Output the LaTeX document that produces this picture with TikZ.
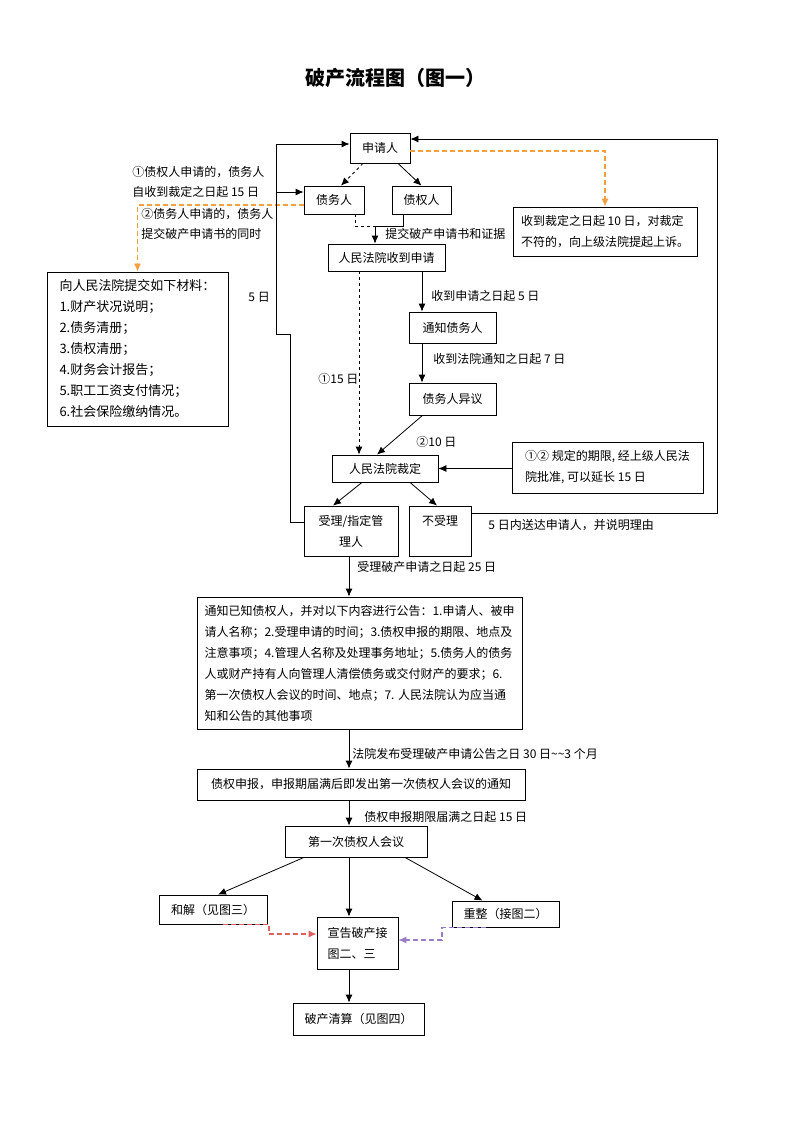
\documentclass[tikz,border=0pt]{standalone}
\usepackage{fontspec}
\setmainfont{Noto Sans CJK SC}
\usetikzlibrary{arrows.meta}

\definecolor{dashorange}{HTML}{F5A040}
\definecolor{dashred}{HTML}{E0605C}
\definecolor{dashpurple}{HTML}{9B7CC6}

\begin{document}
\begin{tikzpicture}[x=1pt, y=-1pt, line width=0.8pt, >={Latex[length=8pt,width=7pt]},
    box/.style={draw, inner sep=0pt, font=\fontsize{12}{21}\selectfont},
    lbl/.style={anchor=west, inner sep=0pt, align=left, font=\fontsize{12}{20}\selectfont},
    orangedash/.style={dashorange, line width=1.1pt, dash pattern=on 5pt off 3pt},
    reddash/.style={dashred, line width=1.1pt, dash pattern=on 5pt off 3pt},
    purpledash/.style={dashpurple, line width=1.1pt, dash pattern=on 5pt off 3pt}]
    \fill[white] (0,0) rectangle (793,1122);

    \node[font=\fontsize{20}{24}\selectfont\bfseries] (title) at (395,78) {破产流程图（图一）};

    % boxes
    \node[box, minimum width=60, minimum height=30] (shen) at (380,148) {申请人};
    \node[box, minimum width=60, minimum height=28] (zhaiwu) at (334,200) {债务人};
    \node[box, minimum width=59, minimum height=28] (zhaiquan) at (421.5,200) {债权人};
    \node[box, minimum width=117, minimum height=27] (shoudao) at (386.5,257.5) {人民法院收到申请};
    \node[box, minimum width=184, minimum height=49, align=left] (shangsu) at (605,231.5) {收到裁定之日起 10 日，对裁定\\不符的，向上级法院提起上诉。};
    \node[box, minimum width=181, minimum height=154, align=left, font=\fontsize{13}{21}\selectfont] (cailiao) at (137.5,349)
        {向人民法院提交如下材料：\\1.财产状况说明；\\2.债务清册；\\3.债权清册；\\4.财务会计报告；\\5.职工工资支付情况；\\6.社会保险缴纳情况。};
    \node[box, minimum width=87, minimum height=31] (tongzhi) at (452.5,327.5) {通知债务人};
    \node[box, minimum width=87, minimum height=32] (yiyi) at (452.5,399) {债务人异议};
    \node[box, minimum width=106, minimum height=27] (caiding) at (385,468.5) {人民法院裁定};
    \node[box, minimum width=191, minimum height=51, align=left] (yanchang) at (607.5,467.5) {①② 规定的期限, 经上级人民法\\院批准, 可以延长 15 日};
    \node[box, minimum width=94, minimum height=50, align=center] (shouli) at (351,531) {受理/指定管\\理人};
    \node[box, minimum width=62, minimum height=50, align=center] (bushouli) at (440,531) {不受理\\\mbox{}};
    \node[box, minimum width=325, minimum height=132, align=left] (gonggao) at (359.5,663)
        {通知已知债权人，并对以下内容进行公告：1.申请人、被申\\请人名称；2.受理申请的时间；3.债权申报的期限、地点及\\注意事项；4.管理人名称及处理事务地址；5.债务人的债务\\人或财产持有人向管理人清偿债务或交付财产的要求；6.\\第一次债权人会议的时间、地点；7. 人民法院认为应当通\\知和公告的其他事项};
    \node[box, minimum width=328, minimum height=31] (shenbao) at (361,784.5) {债权申报，申报期届满后即发出第一次债权人会议的通知};
    \node[box, minimum width=142, minimum height=31] (huiyi) at (356,841.5) {第一次债权人会议};
    \node[box, minimum width=108, minimum height=29] (hejie) at (213,909.5) {和解（见图三）};
    \node[box, minimum width=81, minimum height=52, align=left] (xuangao) at (357.5,943) {宣告破产接\\图二、三};
    \node[box, minimum width=107, minimum height=26] (chongzheng) at (505.5,914) {重整（接图二）};
    \node[box, minimum width=131, minimum height=32] (qingsuan) at (358.5,1019) {破产清算（见图四）};

    % labels
    \node[lbl] (l1) at (132,182) {①债权人申请的，债务人\\自收到裁定之日起 15 日};
    \node[lbl] (l2) at (141,223.5) {②债务人申请的，债务人\\提交破产申请书的同时};
    \node[lbl] (l3) at (385,234) {提交破产申请书和证据};
    \node[lbl] (l4) at (248,297) {5 日};
    \node[lbl] (l5) at (431,296) {收到申请之日起 5 日};
    \node[lbl] (l6) at (318,379) {①15 日};
    \node[lbl] (l7) at (433,359) {收到法院通知之日起 7 日};
    \node[lbl] (l8) at (416,442) {②10 日};
    \node[lbl] (l9) at (488,525) {5 日内送达申请人，并说明理由};
    \node[lbl] (l10) at (357,567) {受理破产申请之日起 25 日};
    \node[lbl] (l11) at (352,754) {法院发布受理破产申请公告之日 30 日\textasciitilde\textasciitilde 3 个月};
    \node[lbl] (l12) at (364,817) {债权申报期限届满之日起 15 日};

    % bends
    \coordinate (rtop) at (717,139);
    \coordinate (ltop) at (276,144);
    \coordinate (lbranch) at (276,192);
    \coordinate (lmid) at (276,334);
    \coordinate (lbot) at (290,334);
    \coordinate (merge) at (375,226);
    \coordinate (rbend) at (269,934);
    \coordinate (pbend) at (442,940);
    \coordinate (xmain) at (349,0);
    \coordinate (xdash) at (359,0);
    \coordinate (xright) at (422,0);

    % top part
    \draw[dashed,->] ([xshift=-17pt]shen.south) -- ([xshift=7pt]zhaiwu.north);
    \draw[->] ([xshift=18pt]shen.south) -- (zhaiquan.north);
    \draw[orangedash,->] ([yshift=-3pt]shen.east) -| (shangsu.north);
    \draw[orangedash,->] ([yshift=-5pt]zhaiwu.west) -| (cailiao.north);
    \draw[->] ([yshift=18pt]bushouli.east) -| (rtop) -- (shen.east |- rtop);
    \draw[->] ([yshift=9pt]shouli.west) -| (lbot) -- (lmid) -- (ltop) -- (shen.west |- ltop);
    \draw[->] (lbranch) -- (zhaiwu.west |- lbranch);
    \draw[dashed] ([xshift=21pt]zhaiwu.south) |- (merge);
    \draw ([xshift=-18pt]zhaiquan.south) |- (merge);
    \draw[->] (merge) -- (shoudao.north -| merge);

    % court
    \draw[dashed,->] (shoudao.south -| xdash) -- (caiding.north -| xdash);
    \draw[->] (shoudao.south -| xright) -- (tongzhi.north -| xright);
    \draw[->] (tongzhi.south -| xright) -- (yiyi.north -| xright);
    \draw[->] ([xshift=-30pt]yiyi.south) -- ([xshift=-8pt]caiding.north);
    \draw[->] (yanchang.west |- caiding.east) -- (caiding.east);
    \draw[->] ([xshift=-23pt]caiding.south) -- ([xshift=-18pt]shouli.north);
    \draw[->] ([xshift=25pt]caiding.south) -- ([xshift=-3pt]bushouli.north);

    % bottom part
    \draw[->] (shouli.south -| xmain) -- (gonggao.north -| xmain);
    \draw[->] (gonggao.south -| xmain) -- (shenbao.north -| xmain);
    \draw[->] (shenbao.south -| xmain) -- (huiyi.north -| xmain);
    \draw[->] (huiyi.south -| xmain) -- (xuangao.north -| xmain);
    \draw[->] ([xshift=-52pt]huiyi.south) -- ([xshift=5pt]hejie.north);
    \draw[->] ([xshift=49pt]huiyi.south) -- ([xshift=-23pt]chongzheng.north);
    \draw[reddash,->] ([xshift=10pt]hejie.south) -| (rbend) -- (xuangao.west |- rbend);
    \draw[purpledash,->] ([xshift=-20pt]chongzheng.south) -| (pbend) -- (xuangao.east |- pbend);
    \draw[->] (xuangao.south -| xmain) -- (qingsuan.north -| xmain);
\end{tikzpicture}
\end{document}
